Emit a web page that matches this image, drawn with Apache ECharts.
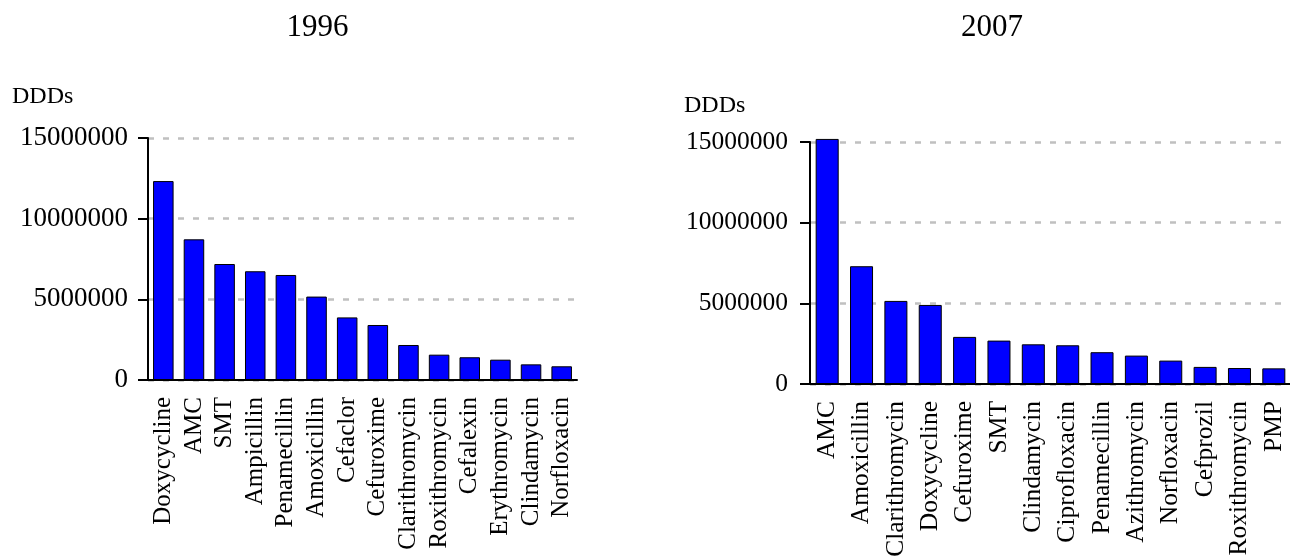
<!DOCTYPE html>
<html>
<head>
<meta charset="utf-8">
<title>Antibiotic DDDs 1996 and 2007</title>
<script src="https://cdn.jsdelivr.net/npm/echarts@6/dist/echarts.min.js"></script>
<style>
  html, body { margin: 0; padding: 0; background: #fff; }
  #chart { width: 1290px; height: 558px; }
</style>
</head>
<body>
<div id="chart"></div>
<script>
// Top antibiotics by defined daily doses (DDDs)
const drugs1996 = ['Doxycycline', 'AMC', 'SMT', 'Ampicillin', 'Penamecillin', 'Amoxicillin', 'Cefaclor',
  'Cefuroxime', 'Clarithromycin', 'Roxithromycin', 'Cefalexin', 'Erythromycin', 'Clindamycin', 'Norfloxacin'];
const ddds1996 = [12330000, 8720000, 7190000, 6740000, 6510000, 5170000, 3880000,
  3410000, 2170000, 1570000, 1410000, 1260000, 970000, 850000];

const drugs2007 = ['AMC', 'Amoxicillin', 'Clarithromycin', 'Doxycycline', 'Cefuroxime', 'SMT', 'Clindamycin',
  'Ciprofloxacin', 'Penamecillin', 'Azithromycin', 'Norfloxacin', 'Cefprozil', 'Roxithromycin', 'PMP'];
const ddds2007 = [15190000, 7300000, 5150000, 4900000, 2920000, 2690000, 2460000,
  2400000, 1970000, 1760000, 1450000, 1060000, 990000, 970000];

const panelTitles = ['1996', '2007'];
const yName = 'DDDs';
const yMin = 0, yMax = 15000000, yStep = 5000000;

const FONT = '"Liberation Serif", "DejaVu Serif", serif';

function xAxisFor(idx, cats, fontSize) {
  return {
    type: 'category',
    gridIndex: idx,
    data: cats,
    axisLine: { lineStyle: { color: '#000', width: 2 } },
    axisTick: { length: 10, lineStyle: { color: '#000', width: 2 } },
    axisLabel: { rotate: 90, margin: 17, color: '#000', fontFamily: FONT, fontSize: fontSize, interval: 0 }
  };
}

function yAxisFor(idx, margin, fontSize) {
  return {
    type: 'value',
    gridIndex: idx,
    min: yMin, max: yMax, interval: yStep,
    axisLine: { show: true, lineStyle: { color: '#000', width: 2 } },
    axisTick: { show: true, length: 10, lineStyle: { color: '#000', width: 2 } },
    axisLabel: {
      margin: margin, color: '#000', fontFamily: FONT, fontSize: fontSize,
      formatter: (v) => String(v)
    },
    splitLine: { show: true, lineStyle: { color: '#c0c0c0', width: 2.5, type: [6, 9] } }
  };
}

function barSeries(idx, values) {
  return {
    type: 'bar',
    xAxisIndex: idx,
    yAxisIndex: idx,
    data: values,
    barCategoryGap: '33%',
    clip: false,
    itemStyle: { color: '#0000ff', borderColor: '#000', borderWidth: 1 }
  };
}

const chart = echarts.init(document.getElementById('chart'), null, { renderer: 'canvas' });
chart.setOption({
  animation: false,
  backgroundColor: '#fff',
  grid: [
    { left: 148, top: 138, width: 429, height: 242, containLabel: false, outerBoundsMode: 'none' },
    { left: 810, top: 142, width: 481, height: 242, containLabel: false, outerBoundsMode: 'none' }
  ],
  xAxis: [xAxisFor(0, drugs1996, 25), xAxisFor(1, drugs2007, 25.5)],
  yAxis: [yAxisFor(0, 20, 27), yAxisFor(1, 22, 25.5)],
  series: [barSeries(0, ddds1996), barSeries(1, ddds2007)],
  graphic: [
    { type: 'text', x: 317.5, y: 28, style: { text: panelTitles[0], font: '31px ' + FONT, fill: '#000', align: 'center', verticalAlign: 'middle' } },
    { type: 'text', x: 992, y: 28, style: { text: panelTitles[1], font: '31px ' + FONT, fill: '#000', align: 'center', verticalAlign: 'middle' } },
    { type: 'text', x: 12, y: 97, style: { text: yName, font: '24px ' + FONT, fill: '#000', align: 'left', verticalAlign: 'middle' } },
    { type: 'text', x: 684, y: 106, style: { text: yName, font: '24px ' + FONT, fill: '#000', align: 'left', verticalAlign: 'middle' } }
  ]
});
</script>
</body>
</html>
